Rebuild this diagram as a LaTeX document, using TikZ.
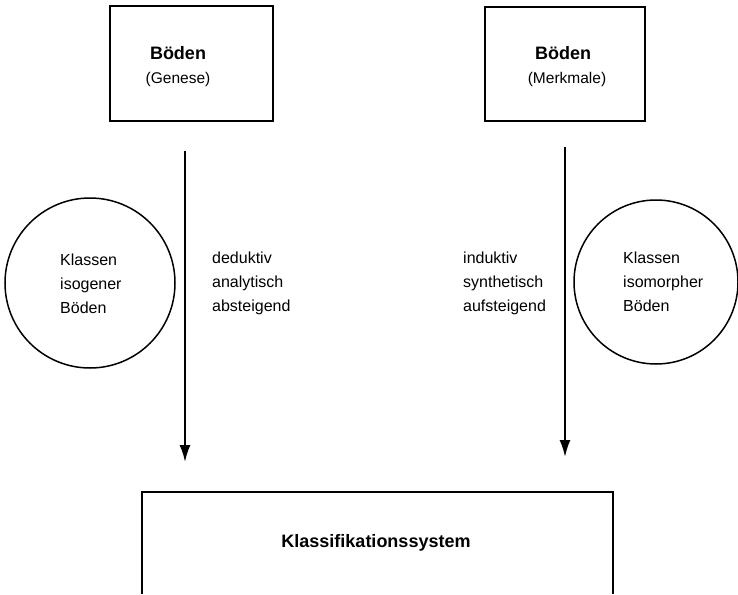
\documentclass[tikz,border=0pt]{standalone}
\usepackage{fontspec}
\setmainfont{Liberation Sans}
\usetikzlibrary{arrows.meta}
\begin{document}
\begin{tikzpicture}[x=1pt,y=-1pt,
  boxline/.style={draw, line width=1.6pt},
  ring/.style={draw, circle, line width=1.5pt, inner sep=0pt},
  lbl/.style={font=\fontsize{16}{24}\selectfont, align=left, anchor=west, inner sep=0pt},
  head/.style={font=\bfseries\fontsize{18}{22}\selectfont, inner sep=0pt},
  sub/.style={font=\fontsize{15.5}{18}\selectfont, inner sep=0pt},
  flow/.style={line width=2pt, -{Latex[length=17pt,width=11pt]}},
]
\useasboundingbox (0,0) rectangle (738,594);

% top boxes
\node[boxline, minimum width=163pt, minimum height=115pt] (gen) at (191.5,63.5) {};
\node[head] (genH) at (178,53) {Böden};
\node[sub] (genS) at (178,79) {(Genese)};

\node[boxline, minimum width=160pt, minimum height=114pt] (merk) at (565,64) {};
\node[head] (merkH) at (563,53) {Böden};
\node[sub] (merkS) at (567,79) {(Merkmale)};

% circles
\node[ring, minimum size=170pt] (iso) at (90,283) {};
\node[lbl] (isoT) at (60,284) {Klassen\\isogener\\Böden};

\node[ring, minimum size=164pt] (morph) at (656,282) {};
\node[lbl] (morphT) at (623,282) {Klassen\\isomorpher\\Böden};

% arrows
\coordinate (a1s) at (185,151);
\coordinate (a1e) at (185,462);
\coordinate (a2s) at (565,147);
\coordinate (a2e) at (565,457);
\draw[flow] (a1s) -- (a1e);
\draw[flow] (a2s) -- (a2e);

\node[lbl] (dedT) at (212,283) {deduktiv\\analytisch\\absteigend};
\node[lbl] (indT) at (463,283) {induktiv\\synthetisch\\aufsteigend};

% bottom box (open at the bottom)
\coordinate (sysBL) at (142,594);
\coordinate (sysTL) at (142,492);
\coordinate (sysTR) at (613,492);
\coordinate (sysBR) at (613,594);
\draw[boxline] (sysBL) -- (sysTL) -- (sysTR) -- (sysBR);
\node[head] (sys) at (376,543) {Klassifikationssystem};
\end{tikzpicture}
\end{document}
